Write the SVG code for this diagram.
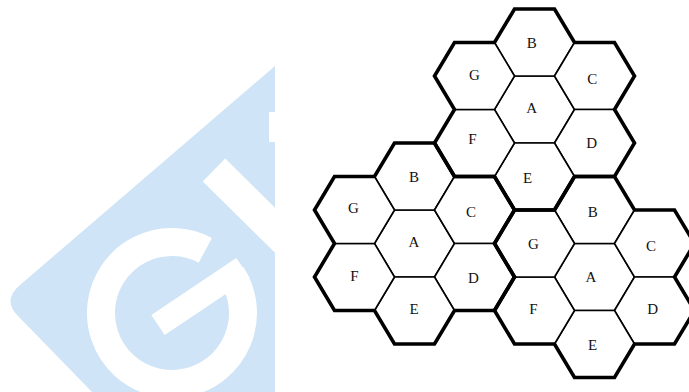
<svg xmlns="http://www.w3.org/2000/svg" xmlns:xlink="http://www.w3.org/1999/xlink" width="689" height="392" viewBox="0 0 689 392">
  <style>
    .cell { fill: #ffffff; stroke: #000000; stroke-width: 1.6; stroke-linejoin: miter; }
    .border { fill: none; stroke: #000000; stroke-width: 3.6; stroke-linejoin: miter; }
    .lbl { font-family: "Liberation Serif", "Times New Roman", serif; font-size: 15px; fill: #111111; text-anchor: middle; }
    .wm { fill: #cfe4f7; }
    .wmcut { fill: none; stroke: #ffffff; }
  </style>
  <defs>
    <polygon id="hex" points="-40,0 -20,-33.5 20,-33.5 40,0 20,33.5 -20,33.5"/>
    <polygon id="flower" points="-20,-100.5 20,-100.5 40,-67 80,-67 100,-33.5 80,0 100,33.5 80,67 40,67 20,100.5 -20,100.5 -40,67 -80,67 -100,33.5 -80,0 -100,-33.5 -80,-67 -40,-67"/>
    <clipPath id="wmclip">
      <path d="M 20,285 L 275,66 L 275,392 L 92,392 L 18,316 Q 2,300 20,285 Z"/>
    </clipPath>
  </defs>

  <g id="watermark">
    <path class="wm" d="M 20,285 L 275,66 L 275,392 L 92,392 L 18,316 Q 2,300 20,285 Z"/>
    <g clip-path="url(#wmclip)">
      <path class="wmcut" stroke-width="28" d="M 231.5,274.3 A 71,71 0 1 1 205.3,250.3"/>
      <line class="wmcut" stroke-width="24" x1="158" y1="325" x2="243" y2="268"/>
      <line class="wmcut" stroke-width="32" x1="214" y1="170" x2="300" y2="255"/>
      <line class="wmcut" stroke-width="14" x1="276" y1="112" x2="276" y2="142"/>
    </g>
  </g>

  <!-- cluster 1 (top) -->
  <g id="c1-A"><use xlink:href="#hex" class="cell" transform="translate(534.5,109.5)"/><text class="lbl" x="531.7" y="113.3">A</text></g>
  <g id="c1-B"><use xlink:href="#hex" class="cell" transform="translate(534.5,42.5)"/><text class="lbl" x="531.7" y="47.7">B</text></g>
  <g id="c1-C"><use xlink:href="#hex" class="cell" transform="translate(594.5,76)"/><text class="lbl" x="592.3" y="84">C</text></g>
  <g id="c1-D"><use xlink:href="#hex" class="cell" transform="translate(594.5,143)"/><text class="lbl" x="591.7" y="148.3">D</text></g>
  <g id="c1-E"><use xlink:href="#hex" class="cell" transform="translate(534.5,176.5)"/><text class="lbl" x="527.7" y="182.7">E</text></g>
  <g id="c1-F"><use xlink:href="#hex" class="cell" transform="translate(474.5,143)"/><text class="lbl" x="472.3" y="144.3">F</text></g>
  <g id="c1-G"><use xlink:href="#hex" class="cell" transform="translate(474.5,76)"/><text class="lbl" x="474.3" y="80">G</text></g>

  <!-- cluster 2 (left) -->
  <g id="c2-A"><use xlink:href="#hex" class="cell" transform="translate(414.5,243.5)"/><text class="lbl" x="414" y="246.7">A</text></g>
  <g id="c2-B"><use xlink:href="#hex" class="cell" transform="translate(414.5,176.5)"/><text class="lbl" x="414" y="181.7">B</text></g>
  <g id="c2-C"><use xlink:href="#hex" class="cell" transform="translate(474.5,210)"/><text class="lbl" x="471" y="217.3">C</text></g>
  <g id="c2-D"><use xlink:href="#hex" class="cell" transform="translate(474.5,277)"/><text class="lbl" x="473.3" y="282.7">D</text></g>
  <g id="c2-E"><use xlink:href="#hex" class="cell" transform="translate(414.5,310.5)"/><text class="lbl" x="414" y="314">E</text></g>
  <g id="c2-F"><use xlink:href="#hex" class="cell" transform="translate(354.5,277)"/><text class="lbl" x="354.3" y="281">F</text></g>
  <g id="c2-G"><use xlink:href="#hex" class="cell" transform="translate(354.5,210)"/><text class="lbl" x="353.3" y="212.7">G</text></g>

  <!-- cluster 3 (right) -->
  <g id="c3-A"><use xlink:href="#hex" class="cell" transform="translate(594.5,277)"/><text class="lbl" x="591" y="282.3">A</text></g>
  <g id="c3-B"><use xlink:href="#hex" class="cell" transform="translate(594.5,210)"/><text class="lbl" x="592.7" y="216.7">B</text></g>
  <g id="c3-C"><use xlink:href="#hex" class="cell" transform="translate(654.5,243.5)"/><text class="lbl" x="651" y="251">C</text></g>
  <g id="c3-D"><use xlink:href="#hex" class="cell" transform="translate(654.5,310.5)"/><text class="lbl" x="652.7" y="314.3">D</text></g>
  <g id="c3-E"><use xlink:href="#hex" class="cell" transform="translate(594.5,344)"/><text class="lbl" x="592.7" y="350">E</text></g>
  <g id="c3-F"><use xlink:href="#hex" class="cell" transform="translate(534.5,310.5)"/><text class="lbl" x="533.3" y="314.3">F</text></g>
  <g id="c3-G"><use xlink:href="#hex" class="cell" transform="translate(534.5,243.5)"/><text class="lbl" x="533.3" y="249">G</text></g>

  <!-- cluster boundaries (thick outlines) -->
  <g id="connectors">
    <use xlink:href="#flower" class="border" transform="translate(534.5,109.5)"/>
    <use xlink:href="#flower" class="border" transform="translate(414.5,243.5)"/>
    <use xlink:href="#flower" class="border" transform="translate(594.5,277)"/>
  </g>
</svg>
